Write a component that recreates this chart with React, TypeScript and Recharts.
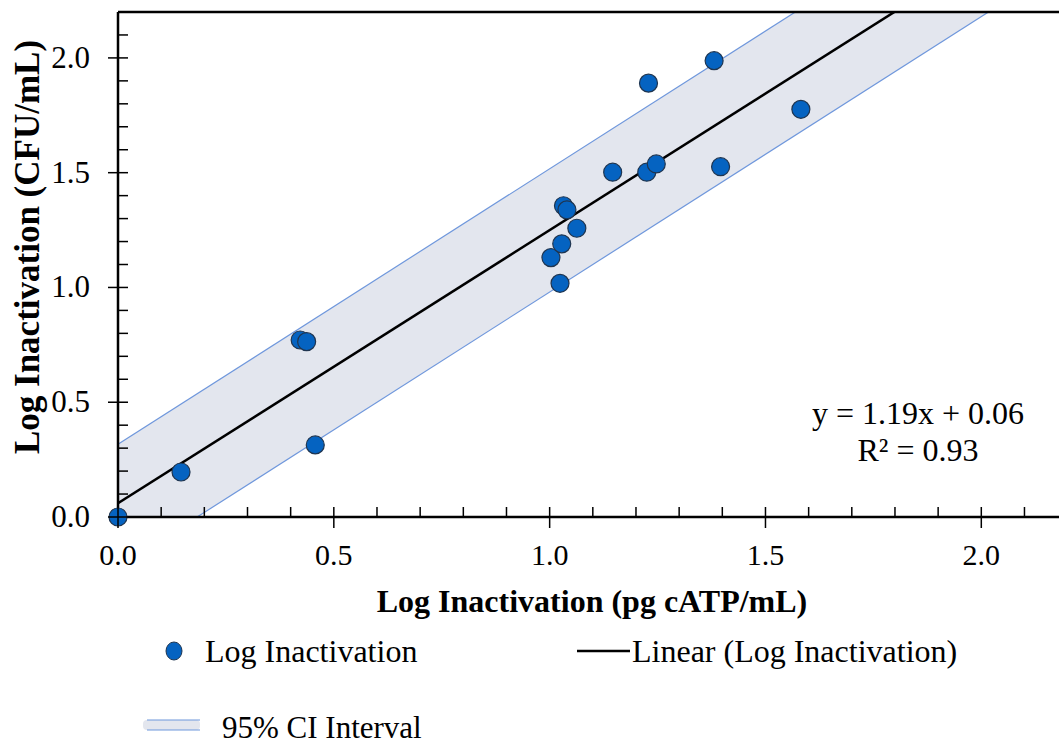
import React from 'react';
import {
  ComposedChart,
  Scatter,
  Line,
  Area,
  XAxis,
  YAxis,
  ReferenceLine,
  Label,
} from 'recharts';

// measured points: log inactivation by cATP (x) vs by culture (y)
const catpLog = [
  0, 0.146, 0.422, 0.437, 0.457, 1.003, 1.024, 1.028, 1.032, 1.04, 1.063,
  1.146, 1.225, 1.229, 1.247, 1.381, 1.396, 1.582,
];
const cfuLog = [
  0, 0.196, 0.771, 0.764, 0.314, 1.13, 1.018, 1.19, 1.356, 1.338, 1.258,
  1.502, 1.502, 1.89, 1.538, 1.988, 1.526, 1.776,
];

// trend line and 95% CI band, read at the left and right edges of the plot
const edgeX = [0, 2.18];
const fitY = [0.06, 2.654];
const ciLow = [-0.22, 2.396];
const ciHigh = [0.317, 2.933];

const xTicks = [0, 0.1, 0.2, 0.3, 0.4, 0.5, 0.6, 0.7, 0.8, 0.9, 1.0, 1.1, 1.2, 1.3, 1.4, 1.5, 1.6, 1.7, 1.8, 1.9, 2.0, 2.1];
const yTicks = [0, 0.1, 0.2, 0.3, 0.4, 0.5, 0.6, 0.7, 0.8, 0.9, 1.0, 1.1, 1.2, 1.3, 1.4, 1.5, 1.6, 1.7, 1.8, 1.9, 2.0, 2.1, 2.2];

const seriesName = 'Log Inactivation';
const fitName = 'Linear (Log Inactivation)';
const bandName = '95% CI Interval';
const equation = 'y = 1.19x + 0.06';
const rSquared = 'R² = 0.93';

const points = catpLog.map((x, i) => ({ x, y: cfuLog[i] }));
const lineData = edgeX.map((x, i) => ({ x, fit: fitY[i], band: [ciLow[i], ciHigh[i]] }));

const FONT = '"Liberation Serif", "Times New Roman", serif';
const DOT_FILL = '#0563c1';
const DOT_STROKE = '#1f3550';
const BAND_FILL = '#e3e6ee';
const BAND_EDGE = '#6f97dc';

const isMajor = (v: number) => Math.abs(v * 2 - Math.round(v * 2)) < 1e-6;

const XTick = (props: any) => {
  const { x, y, payload } = props;
  const major = isMajor(payload.value);
  return (
    <g>
      <line x1={x} x2={x} y1={y - 10} y2={major ? y + 11 : y} stroke="#000" strokeWidth={1.5} />
      {major && (
        <text x={x} y={y + 48} textAnchor="middle" fontFamily={FONT} fontSize={30} fill="#000">
          {payload.value.toFixed(1)}
        </text>
      )}
    </g>
  );
};

const YTick = (props: any) => {
  const { x, y, payload } = props;
  const major = isMajor(payload.value);
  return (
    <g>
      <line x1={major ? x - 10 : x} x2={x + 10} y1={y} y2={y} stroke="#000" strokeWidth={1.5} />
      {major && (
        <text x={x - 28} y={y + 10} textAnchor="end" fontFamily={FONT} fontSize={31} fill="#000">
          {payload.value.toFixed(1)}
        </text>
      )}
    </g>
  );
};

const Dot = (props: any) => (
  <circle cx={props.cx} cy={props.cy} r={9} fill={DOT_FILL} stroke={DOT_STROKE} strokeWidth={1.2} />
);

export default function App() {
  return (
    <div style={{ position: 'absolute', left: 0, top: 0, width: 1059, height: 746, background: '#fff' }}>
      <ComposedChart
        width={1059}
        height={746}
        data={lineData}
        margin={{ top: 12, right: 0, bottom: 0, left: 0 }}
      >
        <XAxis
          dataKey="x"
          type="number"
          domain={[0, 2.18]}
          allowDataOverflow
          ticks={xTicks}
          interval={0}
          tickSize={0}
          tickMargin={0}
          tickLine={false}
          tick={<XTick />}
          height={229}
          axisLine={{ stroke: '#000', strokeWidth: 2.5 }}
        >
          <Label
            content={() => (
              <text x={592} y={612} textAnchor="middle" fontFamily={FONT} fontWeight="bold" fontSize={32} fill="#000">
                Log Inactivation (pg cATP/mL)
              </text>
            )}
          />
        </XAxis>
        <YAxis
          type="number"
          domain={[0, 2.2]}
          allowDataOverflow
          ticks={yTicks}
          interval={0}
          tickSize={0}
          tickMargin={0}
          tickLine={false}
          tick={<YTick />}
          width={118}
          axisLine={{ stroke: '#000', strokeWidth: 2.5 }}
        >
          <Label
            content={() => (
              <text
                x={39}
                y={247}
                transform="rotate(-90 39 247)"
                textAnchor="middle"
                fontFamily={FONT}
                fontWeight="bold"
                fontSize={35}
                fill="#000"
              >
                Log Inactivation (CFU/mL)
              </text>
            )}
          />
        </YAxis>
        {/* unclipped axes for the scatter so the origin dot is drawn whole */}
        <XAxis xAxisId="s" dataKey="x" type="number" domain={[0, 2.18]} hide />
        <YAxis yAxisId="s" type="number" domain={[0, 2.2]} hide />

        <Area
          dataKey="band"
          type="linear"
          fill={BAND_FILL}
          fillOpacity={1}
          stroke={BAND_EDGE}
          strokeWidth={1.2}
          dot={false}
          activeDot={false}
          isAnimationActive={false}
          name={bandName}
        />
        <Line
          dataKey="fit"
          type="linear"
          stroke="#000"
          strokeWidth={2.5}
          dot={false}
          activeDot={false}
          isAnimationActive={false}
          name={fitName}
        />
        <ReferenceLine y={2.2} stroke="#000" strokeWidth={2.5} />
        <Scatter
          data={points}
          dataKey="y"
          xAxisId="s"
          yAxisId="s"
          shape={<Dot />}
          isAnimationActive={false}
          name={seriesName}
        />
      </ComposedChart>

      <svg
        width={1059}
        height={746}
        style={{ position: 'absolute', left: 0, top: 0, pointerEvents: 'none' }}
        fontFamily={FONT}
      >
        <text x={918} y={424} textAnchor="middle" fontSize={32} fill="#000">{equation}</text>
        <text x={918} y={461} textAnchor="middle" fontSize={32} fill="#000">{rSquared}</text>

        <ellipse cx={174} cy={651} rx={8} ry={9} fill={DOT_FILL} stroke={DOT_STROKE} strokeWidth={1} />
        <text x={205} y={662} fontSize={32} fill="#000">{seriesName}</text>

        <line x1={577} x2={630} y1={651} y2={651} stroke="#000" strokeWidth={2.5} />
        <text x={632} y={662} fontSize={32} fill="#000">{fitName}</text>

        <rect x={143} y={720} width={57} height={10} rx={4} fill={BAND_FILL} />
        <line x1={147} x2={200} y1={720} y2={720} stroke={BAND_EDGE} strokeWidth={1.2} />
        <line x1={147} x2={200} y1={730} y2={730} stroke={BAND_EDGE} strokeWidth={1.2} />
        <text x={222} y={738} fontSize={31} fill="#000">{bandName}</text>
      </svg>
    </div>
  );
}
